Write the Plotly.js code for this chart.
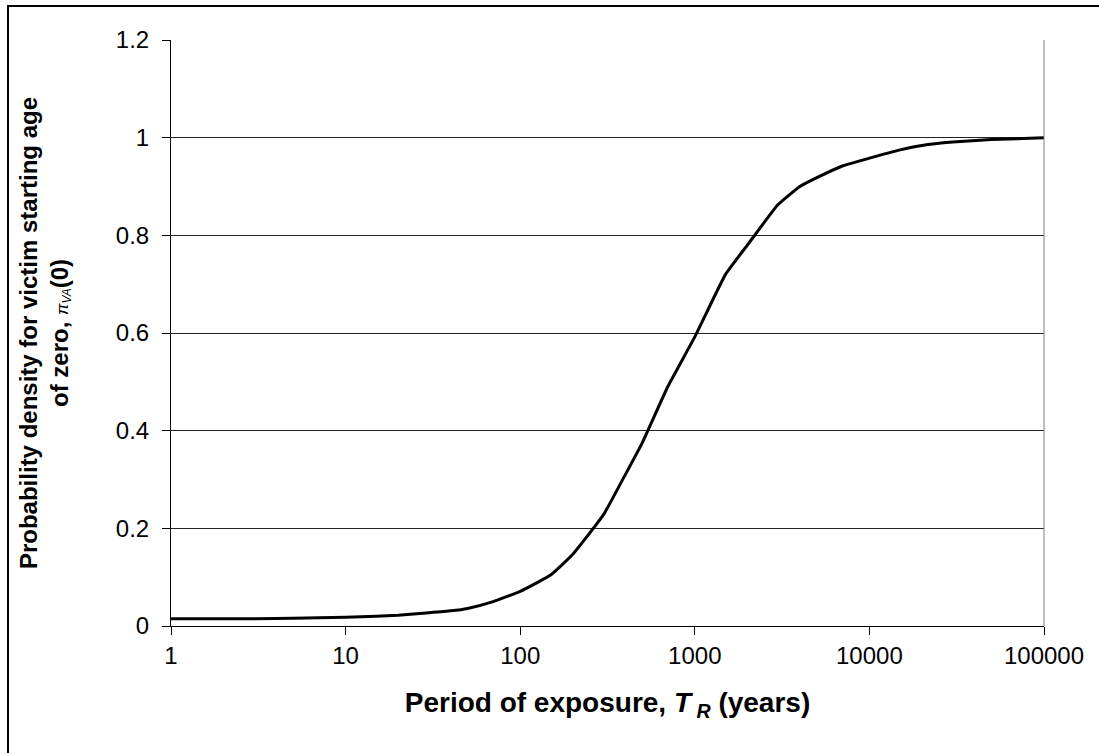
<!DOCTYPE html>
<html>
<head>
<meta charset="utf-8">
<script src="https://cdn.plot.ly/plotly-3.0.1.min.js"></script>
<style>
  html, body { margin: 0; padding: 0; background: #fff; overflow: hidden; }
  #chart { width: 1099px; height: 753px; }
</style>
</head>
<body>
<div id="chart"></div>
<script>
// Period of exposure T_R (years)
const periods = [1, 2, 3, 5, 7, 10, 15, 20, 30, 40, 50, 70, 100, 150, 200, 300, 400, 500, 700, 1000, 1500, 2000, 3000, 4000, 5000, 7000, 10000, 15000, 20000, 30000, 50000, 100000];
// Probability density for victim starting age of zero
const density = [0.015, 0.015, 0.015, 0.016, 0.017, 0.018, 0.020, 0.022, 0.027, 0.031, 0.036, 0.050, 0.071, 0.105, 0.147, 0.228, 0.31, 0.375, 0.49, 0.592, 0.72, 0.78, 0.863, 0.9, 0.918, 0.942, 0.958, 0.975, 0.984, 0.991, 0.996, 1.0];

const xTickVals = [1, 10, 100, 1000, 10000, 100000];
const xTickText = ["1", "10", "100", "1000", "10000", "100000"];
const yTickVals = [0, 0.2, 0.4, 0.6, 0.8, 1, 1.2];
const yTickText = ["0", "0.2", "0.4", "0.6", "0.8", "1", "1.2"];

const W = 1099, H = 753;
const mL = 171, mR = W - 1044, mT = 40, mB = H - 626;
const pw = W - mL - mR, ph = H - mT - mB;

const font = "Liberation Sans, Arial, sans-serif";

const trace = {
  x: periods,
  y: density,
  type: "scatter",
  mode: "lines",
  line: { color: "#000", width: 3, shape: "spline", smoothing: 0.4 },
  hoverinfo: "x+y"
};

const layout = {
  width: W, height: H,
  margin: { l: mL, r: mR, t: mT, b: mB, pad: 0 },
  paper_bgcolor: "#fff",
  plot_bgcolor: "#fff",
  showlegend: false,
  font: { family: font, color: "#000", size: 24 },
  xaxis: {
    type: "log",
    range: [0, 5],
    tickmode: "array",
    tickvals: xTickVals,
    ticktext: xTickText,
    ticks: "outside",
    ticklen: 8,
    tickwidth: 1,
    tickcolor: "#000",
    showgrid: false,
    zeroline: false,
    showline: true,
    linecolor: "#000",
    linewidth: 1,
    tickfont: { family: font, size: 24, color: "#000" },
    automargin: false,
    title: {
      text: "<b>Period of exposure, <i>T</i></b><sub><b><i> R</i></b></sub><b> (years)</b>",
      font: { family: font, size: 28, color: "#000" },
      standoff: 24
    }
  },
  yaxis: {
    range: [0, 1.2],
    tickmode: "array",
    tickvals: yTickVals,
    ticktext: yTickText,
    ticks: "outside",
    ticklen: 8,
    tickwidth: 1,
    tickcolor: "#000",
    ticklabelstandoff: 8,
    showgrid: true,
    gridcolor: "#222",
    gridwidth: 1,
    zeroline: false,
    showline: true,
    linecolor: "#000",
    linewidth: 1,
    tickfont: { family: font, size: 24, color: "#000" },
    automargin: false,
    title: {
      text: "<b>Probability density for victim starting age</b><br><b>of zero, </b><span style='font-size:17px'><i>π<sub>VA</sub></i></span><b>(0)</b>",
      font: { family: font, size: 24, color: "#000" },
      standoff: 40
    }
  },
  shapes: [
    // right plot border
    { type: "line", xref: "paper", yref: "paper", x0: 1, x1: 1, y0: 0, y1: 1,
      line: { color: "#808080", width: 1 } },
    // outer chart frame (left and top visible)
    { type: "rect", xref: "paper", yref: "paper",
      x0: (8 - mL) / pw, x1: (W + 40 - mL) / pw,
      y0: -(H + 40 - mT - ph) / ph, y1: 1 + (mT - 6) / ph,
      line: { color: "#000", width: 2 }, fillcolor: "rgba(0,0,0,0)", layer: "below" }
  ]
};

Plotly.newPlot("chart", [trace], layout, { displayModeBar: false, staticPlot: true });
</script>
</body>
</html>
